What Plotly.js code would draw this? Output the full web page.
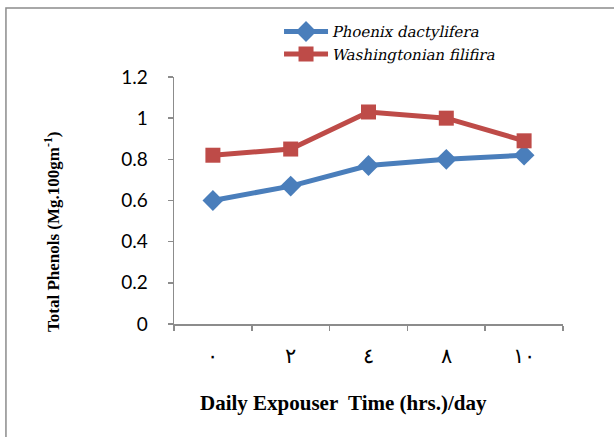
<!DOCTYPE html>
<html>
<head>
<meta charset="utf-8">
<script src="https://cdn.plot.ly/plotly-3.0.1.min.js"></script>
<style>html,body{margin:0;padding:0;background:#fff;}#chart{width:614px;height:437px;}</style>
</head>
<body>
<div id="chart"></div>
<script>
const categories = ["٠", "٢", "٤", "٨", "١٠"];
const phoenix = [0.60, 0.67, 0.77, 0.80, 0.82];
const washingtonian = [0.82, 0.85, 1.03, 1.00, 0.89];
const seriesNames = ["Phoenix dactylifera", "Washingtonian filifira"];
const yTicks = [0, 0.2, 0.4, 0.6, 0.8, 1, 1.2];
const yTickText = ["0", "0.2", "0.4", "0.6", "0.8", "1", "1.2"];

const traces = [
  {
    x: categories, y: phoenix, name: seriesNames[0], type: "scatter", mode: "lines+markers",
    line: {color: "#4A7EBB", width: 5},
    marker: {symbol: "diamond", size: 16, color: "#4A7EBB"}
  },
  {
    x: categories, y: washingtonian, name: seriesNames[1], type: "scatter", mode: "lines+markers",
    line: {color: "#BE4B48", width: 5},
    marker: {symbol: "square", size: 15, color: "#BE4B48"}
  }
];

const layout = {
  width: 614, height: 437,
  margin: {l: 174, r: 51, t: 77, b: 113},
  paper_bgcolor: "#fff", plot_bgcolor: "#fff",
  font: {family: "Liberation Serif, serif"},
  showlegend: true,
  legend: {
    x: 0.27, y: 1.25, xanchor: "left", yanchor: "top",
    font: {family: "DejaVu Serif", size: 15, color: "#000"},
    itemwidth: 44, tracegroupgap: 0, bgcolor: "rgba(0,0,0,0)"
  },
  xaxis: {
    type: "category", range: [-0.5, 4.5],
    showline: true, linecolor: "#8c8c8c", linewidth: 1.5,
    ticks: "outside", ticklen: 5, tickcolor: "#8c8c8c", tickwidth: 1.5,
    tickson: "boundaries", showgrid: false, zeroline: false,
    tickfont: {family: "Liberation Serif, DejaVu Serif", size: 21, color: "#000"},
    ticklabelstandoff: 12
  },
  yaxis: {
    range: [0, 1.2], tickvals: yTicks, ticktext: yTickText,
    showline: true, linecolor: "#8c8c8c", linewidth: 1.5,
    ticks: "outside", ticklen: 5, tickcolor: "#8c8c8c", tickwidth: 1.5,
    showgrid: false, zeroline: false,
    tickfont: {family: "Lato, Open Sans", size: 19, color: "#000"},
    ticklabelstandoff: 16
  },
  shapes: [
    {type: "rect", xref: "paper", yref: "paper", x0: -0.432, x1: 1.5, y0: -0.6, y1: 1.279,
     line: {color: "#8c8c8c", width: 1.5}, fillcolor: "rgba(0,0,0,0)", layer: "below"}
  ],
  annotations: [
    {text: "Daily Expouser  Time (hrs.)/day", xref: "paper", yref: "paper",
     x: (343 - 174) / 389, y: (324 - 403) / 247, xanchor: "center", yanchor: "middle",
     showarrow: false, font: {family: "Liberation Serif, serif", size: 21, color: "#000", weight: "bold"}},
    {text: "Total Phenols (Mg.100gm<sup>-1</sup>)", xref: "paper", yref: "paper",
     x: (52 - 174) / 389, y: (324 - 232) / 247, xanchor: "center", yanchor: "middle",
     textangle: -90, showarrow: false,
     font: {family: "Liberation Serif, serif", size: 17, color: "#000", weight: "bold"}}
  ]
};

Plotly.newPlot("chart", traces, layout, {displayModeBar: false, staticPlot: true}).then(function (gd) {
  gd.querySelectorAll(".legend text.legendtext").forEach(function (t) {
    t.setAttribute("transform", "skewX(-12)");
  });
});
</script>
</body>
</html>
